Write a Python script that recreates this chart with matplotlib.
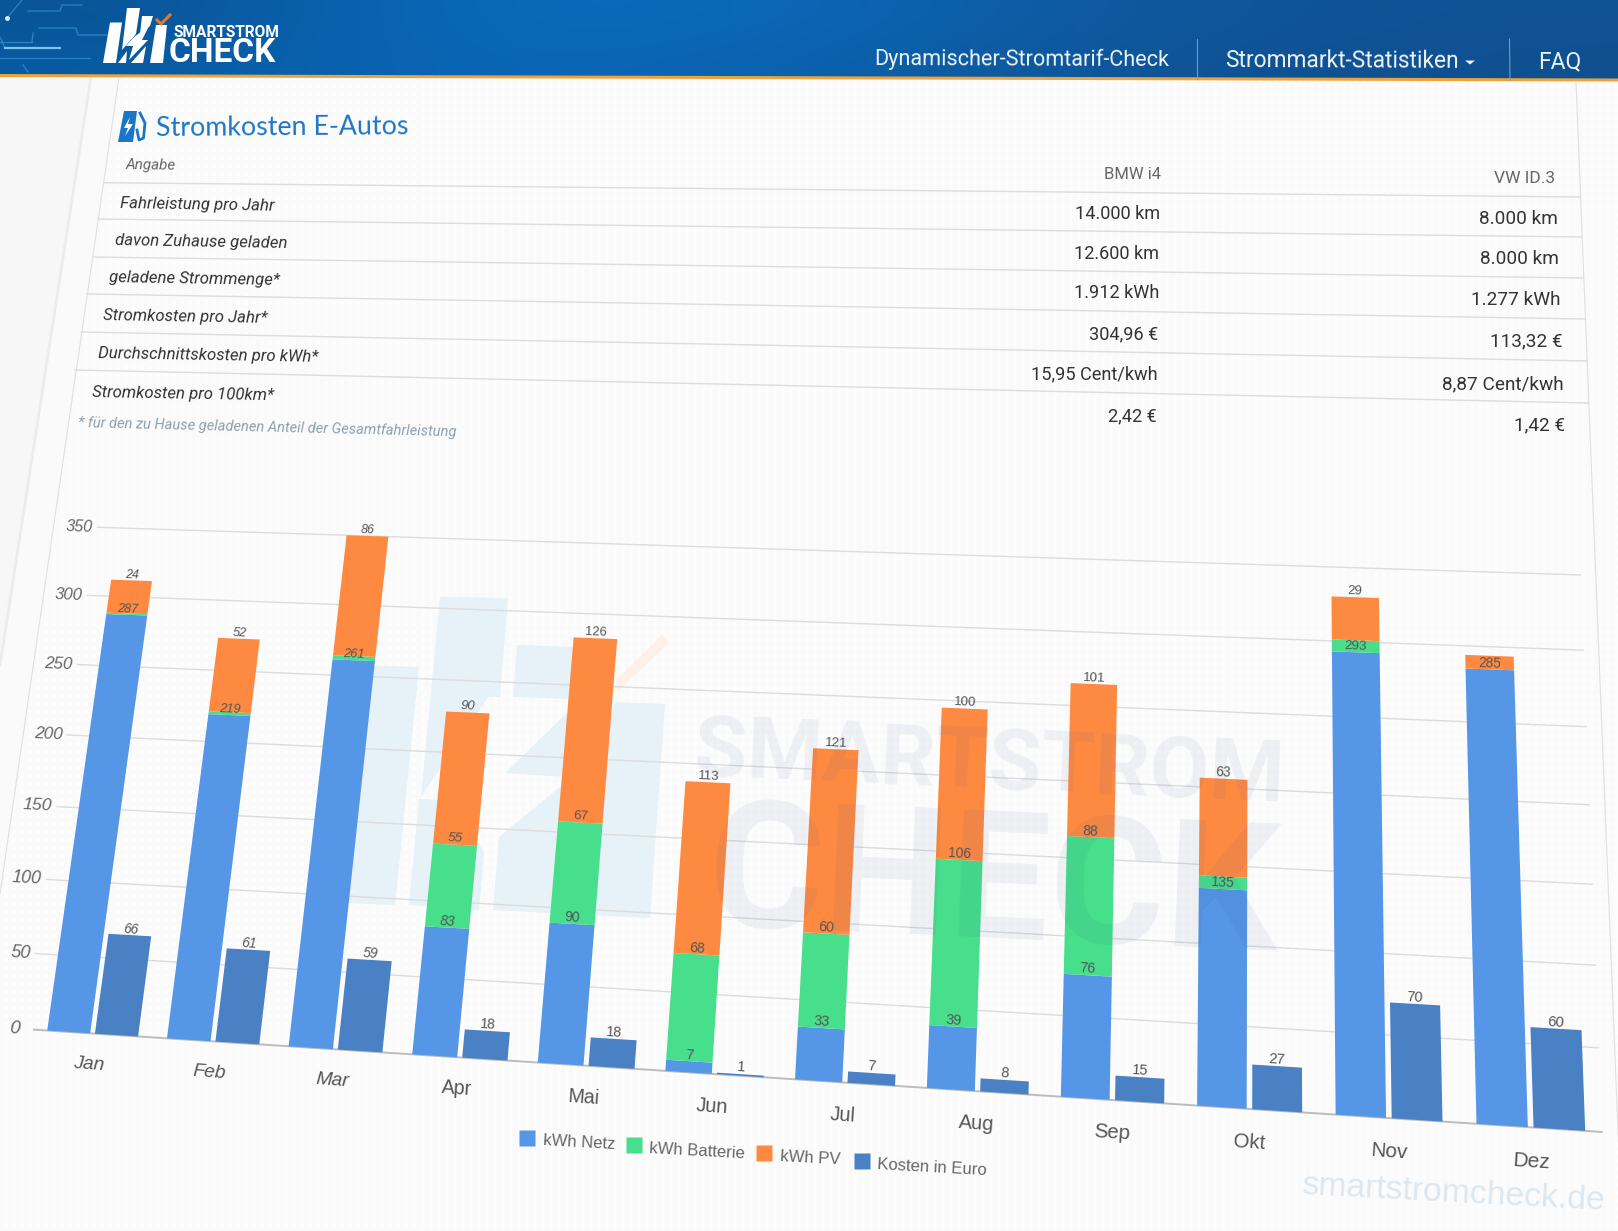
import numpy as np
import matplotlib
matplotlib.use('Agg')
import matplotlib.pyplot as plt
from matplotlib.patches import Polygon
from matplotlib.transforms import Transform

plt.rcParams['font.family'] = ['Roboto', 'DejaVu Sans']

# chart data
months = ['Jan', 'Feb', 'Mar', 'Apr', 'Mai', 'Jun', 'Jul', 'Aug', 'Sep', 'Okt', 'Nov', 'Dez']
netz = [287, 219, 261, 83, 90, 7, 33, 39, 76, 135, 293, 285]
batterie = [1, 2, 3, 55, 67, 68, 60, 106, 88, 8, 8, 0]
pv = [24, 52, 86, 90, 126, 113, 121, 100, 101, 63, 29, 9]
kosten = [66, 61, 59, 18, 18, 1, 7, 8, 15, 27, 70, 60]
y_ticks = [0, 50, 100, 150, 200, 250, 300, 350]
series_names = ['kWh Netz', 'kWh Batterie', 'kWh PV', 'Kosten in Euro']

# table
row_names = ['Fahrleistung pro Jahr', 'davon Zuhause geladen', 'geladene Strommenge*',
             'Stromkosten pro Jahr*', 'Durchschnittskosten pro kWh*', 'Stromkosten pro 100km*']
bmw = ['14.000 km', '12.600 km', '1.912 kWh', '304,96 €', '15,95 Cent/kwh', '2,42 €']
vw = ['8.000 km', '8.000 km', '1.277 kWh', '113,32 €', '8,87 Cent/kwh', '1,42 €']

BLUE = '#5596e6'
GREEN = '#47df8b'
ORANGE = '#fe8a42'
DARK = '#4a80c4'
CHART_FONT = 'Liberation Sans'

W, H = 1618, 1231
fig = plt.figure(figsize=(W / 100, H / 100), dpi=100, facecolor='#fcfcfc')
ax = fig.add_axes([0, 0, 1, 1])
ax.set_autoscale_on(False)
ax.axis('off')


def homography(src, dst):
    a = []
    b = []
    for (x, y), (u, v) in zip(src, dst):
        a.append([x, y, 1, 0, 0, 0, -u * x, -u * y])
        a.append([0, 0, 0, x, y, 1, -v * x, -v * y])
        b += [u, v]
    return np.append(np.linalg.solve(np.array(a, float), np.array(b, float)), 1).reshape(3, 3)


# tilted page: category/value to picture pixels
class Tilt(Transform):
    input_dims = 2
    output_dims = 2
    is_separable = False
    has_inverse = False

    def __init__(self, m):
        super().__init__()
        self.m = m

    def transform_non_affine(self, values):
        values = np.asarray(values, float)
        p = np.column_stack([values, np.ones(len(values))]) @ self.m.T
        return p[:, :2] / p[:, 2:]


tilt = Tilt(homography([(-0.5, 0), (11.5, 0), (11.5, 350), (-0.5, 350)],
                       [(33, 1029.6), (1602.5, 1132), (1581, 575), (105, 527.5)]))
chart = tilt + ax.transData


def local(x, v):
    # text rotation, skew and size factor at one chart position
    p = tilt.transform_non_affine(np.array([[x, v], [x + 0.2, v], [x, v + 20]]))
    rot = -np.degrees(np.arctan2(p[1, 1] - p[0, 1], p[1, 0] - p[0, 0]))
    up = p[2] - p[0]
    skew = np.degrees(np.arctan2(up[0], -up[1]))
    return rot, skew, np.hypot(*up) / 30.0


def chart_text(x, v, s, px, color='#555555', ha='center', va='center'):
    rot, skew, k = local(x, v)
    ax.text(x, v, s, transform=chart, fontsize=px * k * 0.72, color=color, ha=ha, va=va,
            family=CHART_FONT, rotation=rot, rotation_mode='anchor',
            style='italic' if skew > 5.5 else 'normal', zorder=8)


# page background with its fine dot pattern
dots = np.full((H // 4, W // 4), 253, dtype=np.uint8)
dots[::2, :] = 251
dots[:, ::2] = 250
ax.imshow(dots, cmap='gray', vmin=0, vmax=255, extent=[0, W, H, 0], aspect='auto',
          interpolation='nearest', zorder=0)
ax.add_patch(Polygon([(0, 74), (91, 77), (0, 665)], fc='#f7f7f7', ec='none', zorder=0.5))
ax.add_patch(Polygon([(91, 77), (119, 77), (0, 894), (0, 665)], fc='#fafafa', ec='none', zorder=0.5))
ax.plot([91, 0], [77, 665], color='#ececec', lw=2, zorder=1)
ax.plot([119, 0], [77, 894], color='#e0e0e0', lw=0.8, zorder=1)
ax.plot([1576, 1622], [82, 1231], color='#e0e0e0', lw=0.8, zorder=1)

# header band, cut along the tilted lower edge
grad = np.array([[[9, 84, 150], [10, 108, 192], [11, 104, 184], [15, 86, 155], [16, 82, 148]],
                 [[8, 90, 160], [10, 104, 186], [11, 98, 174], [15, 84, 150], [15, 80, 145]]], dtype=np.uint8)
band = ax.imshow(grad, extent=[0, W, 80, 0], aspect='auto', interpolation='bicubic', zorder=2)
ax.set_xlim(0, W)
ax.set_ylim(H, 0)
band.set_clip_path(Polygon([(0, 0), (W, 0), (W, 80), (0, 76)], transform=ax.transData))
ax.add_patch(Polygon([(0, 74), (W, 78.5), (W, 81.5), (0, 77)], fc='#eda33a', ec='none', zorder=3))

# circuit lines in the header
for xs, ys in [([7, 22], [18, 0]), ([28, 60, 62, 82], [11, 11, 5, 5]), ([39, 76, 78, 110], [28, 28, 35, 35]),
               ([0, 5], [37, 48]), ([32, 0], [42, 42]), ([32, 33], [42, 33]), ([0, 90], [58, 58]), ([23, 28], [65, 72])]:
    ax.plot(xs, ys, color='#46a8e8', lw=0.9, alpha=0.55, zorder=3)
ax.plot([5, 60], [48, 48], color='#8fd0f8', lw=1.6, alpha=0.9, zorder=3)
ax.plot(7, 18, marker='o', ms=3.5, color='#dff2ff', mec='none', zorder=3)

# header logo
for poly in [[(110, 22.5), (122, 22.5), (116, 63), (103, 63)],
             [(127, 8), (140, 8), (136, 34), (122, 50)],
             [(142, 16), (153, 16), (150, 26), (140, 34)],
             [(156, 25), (167, 25), (163, 63), (150, 63)],
             [(134, 37), (149, 26), (142, 40), (148, 40), (129, 60), (133, 46), (126, 46)],
             [(118, 63), (127, 51), (126, 63)],
             [(131, 63), (146, 46), (143, 63)]]:
    ax.add_patch(Polygon(poly, fc='white', ec='none', zorder=4))
ax.plot([157, 161, 170], [20, 24, 15], color='#e8762e', lw=2.2, zorder=4)
ax.text(174, 32.5, 'SMARTSTROM', fontsize=11.2, fontweight='bold', color='white', va='center', zorder=4)
ax.text(169, 53.5, 'CHECK', fontsize=24, fontweight='bold', color='white', va='center', zorder=4)

# nav
nav_col = '#eef4fa'
ax.text(874.5, 60, 'Dynamischer-Stromtarif-Check', fontsize=15.6, color=nav_col, va='center', rotation=-0.2, zorder=4)
ax.text(1225.5, 61, 'Strommarkt-Statistiken', fontsize=16.4, color=nav_col, va='center', rotation=-0.2, zorder=4)
ax.text(1538.5, 61.5, 'FAQ', fontsize=16.5, color=nav_col, va='center', zorder=4)
ax.add_patch(Polygon([(1465, 60.5), (1475, 60.5), (1470, 64.5)], fc=nav_col, ec='none', zorder=4))
ax.plot([1197.5, 1197.5], [39, 79], color='#6f9cc6', lw=0.8, zorder=4)
ax.plot([1509.5, 1510], [39, 80], color='#6f9cc6', lw=0.8, zorder=4)

# title with icon
ax.add_patch(Polygon([(124, 111), (137, 111), (133, 142), (118, 142)], fc='#1c76c8', ec='none', zorder=4))
ax.add_patch(Polygon([(130, 117), (124, 128), (128, 128), (125, 136), (133, 124), (128, 124)], fc='white', ec='none', zorder=5))
ax.plot([140, 145, 143.5, 139, 137], [113, 123, 138, 140, 130], color='#1c76c8', lw=2, zorder=4)
ax.text(156, 127.5, 'Stromkosten E-Autos', fontsize=19.3, color='#1f76c4', va='center', rotation=0.4,
        fontfamily='Lato', zorder=4)

# table
ax.text(126, 165, 'Angabe', fontsize=11, color='#666666', va='center', style='italic', rotation=-0.8, zorder=4)
ax.text(1161, 174.5, 'BMW i4', fontsize=12, color='#666666', va='center', ha='right', zorder=4)
ax.text(1555, 178.5, 'VW ID.3', fontsize=12.5, color='#666666', va='center', ha='right', zorder=4)

left_x = [120.6, 114.7, 109.5, 103.6, 98, 92.5]
left_y = [203.5, 241, 278, 316, 354, 393]
bmw_x = [1160, 1159.4, 1159, 1158, 1158, 1157]
bmw_y = [214, 254, 293, 334, 374, 416]
vw_x = [1558, 1559, 1561, 1562.5, 1564, 1565.5]
vw_y = [219, 259, 300, 341, 384, 425]
for i in range(6):
    ax.text(left_x[i], left_y[i], row_names[i], fontsize=12.1, color='#333333', va='center', style='italic',
            rotation=-1, rotation_mode='anchor', zorder=4)
    ax.text(bmw_x[i], bmw_y[i], bmw[i], fontsize=13.1, color='#333333', va='center', ha='right', zorder=4)
    ax.text(vw_x[i], vw_y[i], vw[i], fontsize=13.7, color='#333333', va='center', ha='right', zorder=4)

line_left = [(104.8, 182.7), (98, 219), (93, 257), (87, 294), (81, 332), (75, 370)]
line_right = [(1580, 197), (1582, 237), (1583, 278), (1585, 319), (1587, 361), (1588.5, 403)]
for a, b in zip(line_left, line_right):
    ax.plot([a[0], b[0]], [a[1], b[1]], color='#dcdcdc', lw=1, zorder=3)
ax.text(78, 423, '* für den zu Hause geladenen Anteil der Gesamtfahrleistung', fontsize=10.5, color='#8da0ac',
        va='center', style='italic', rotation=-1.4, rotation_mode='anchor', zorder=4)

# watermark logo lies under the bars
for poly in [[(355, 665), (419, 667), (395, 905), (325, 902)],
             [(440, 597), (508, 598), (500, 697), (488, 697), (421, 797)],
             [(419, 799), (445, 800), (484, 851), (479, 910), (409, 905)],
             [(517, 645), (610, 648), (606, 700), (513, 697)],
             [(505, 773), (567, 713), (567, 777)],
             [(615, 702), (665, 704), (650, 918), (493, 910), (499, 837), (560, 787), (600, 750)]]:
    ax.add_patch(Polygon(poly, fc='#e6f1f8', ec='none', zorder=2.5))
ax.add_patch(Polygon([(662, 635), (669, 643), (617, 692), (616, 680)], fc='#fdf0e7', ec='none', zorder=2.5))

# chart grid
x = np.arange(12)
ax.hlines([t for t in y_ticks if t > 0], -0.575, 11.5, transform=chart, color='#dcdcdc', lw=1, zorder=3)
ax.hlines(0, -0.5, 11.5, transform=chart, color='#bcbcbc', lw=1.4, zorder=3)
for t in y_ticks:
    chart_text(-0.61, t, str(t), 18, color='#666666', ha='right')
for i, m in enumerate(months):
    chart_text(i, -20, m, 18.5, color='#555555')

# bars
netz = np.array(netz)
batterie = np.array(batterie)
pv = np.array(pv)
off = 0.2
bw = 0.36
ax.bar(x - off, netz, bw, color=BLUE, transform=chart, zorder=5)
ax.bar(x - off, batterie, bw, bottom=netz, color=GREEN, transform=chart, zorder=5)
ax.bar(x - off, pv, bw, bottom=netz + batterie, color=ORANGE, transform=chart, zorder=5)
ax.bar(x + off, kosten, bw, color=DARK, transform=chart, zorder=5)

# value labels sit on the segment top, small segments have none
for i in x:
    chart_text(i - off, netz[i] + 4, str(netz[i]), 13.5)
    if batterie[i] >= 15:
        chart_text(i - off, netz[i] + batterie[i] + 4, str(batterie[i]), 13.5)
    if pv[i] >= 15:
        chart_text(i - off, netz[i] + batterie[i] + pv[i] + 4, str(pv[i]), 13.5)
    chart_text(i + off, kosten[i] + 4, str(kosten[i]), 13.5)

# watermark text lies faintly over the bars
wm = '#1c4a8a'
ax.text(694, 752, 'SMARTSTROM', fontsize=62, color=wm, alpha=0.065, va='center', rotation=-2.6,
        rotation_mode='anchor', fontweight='bold', zorder=6)
ax.text(708, 876, 'CHECK', fontsize=128, color=wm, alpha=0.065, va='center', rotation=-2.6,
        rotation_mode='anchor', fontweight='bold', zorder=6)
ax.text(1302, 1186, 'smartstromcheck.de', fontsize=24.3, color='#dde7ef', va='center', rotation=-3,
        rotation_mode='anchor', family=CHART_FONT, zorder=4)

# legend
leg_colors = [BLUE, GREEN, ORANGE, DARK]
leg_sq = [(527, 1138), (634, 1145), (764, 1153), (862, 1161)]
leg_txt = [(543, 1141), (649, 1149), (780, 1157), (877, 1165)]
for c, p, q, name in zip(leg_colors, leg_sq, leg_txt, series_names):
    ax.plot(p[0], p[1], marker='s', ms=11, color=c, mec='none', zorder=5)
    ax.text(q[0], q[1], name, fontsize=12, color='#666666', va='center', rotation=-3.2,
            rotation_mode='anchor', family=CHART_FONT, zorder=5)

ax.set_xlim(0, W)
ax.set_ylim(H, 0)
fig.savefig('out.png', dpi=100)
